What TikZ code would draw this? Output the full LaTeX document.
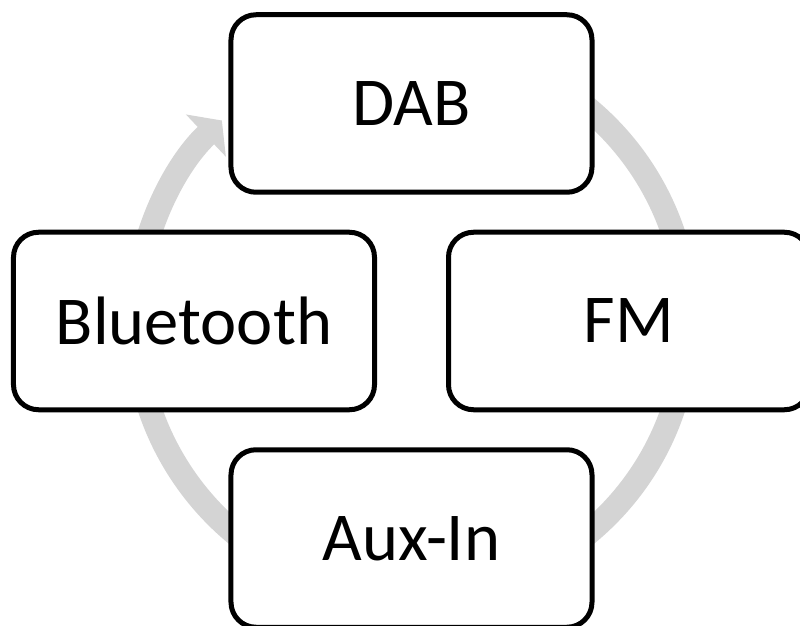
\documentclass[tikz,border=0pt]{standalone}
\usepackage{fontspec}
\setmainfont{Carlito}
\usetikzlibrary{positioning, arrows.meta}
\definecolor{ringgray}{RGB}{212,212,212}
\tikzset{stage/.style={draw, line width=0.1cm, rounded corners=0.5cm, fill=white, minimum width=7.22cm, minimum height=3.55cm, inner sep=0pt, font=\fontsize{39}{47}\selectfont}}
\tikzset{ring/.style={draw=ringgray, line width=0.48cm, -{Triangle[width=1.14cm, length=0.44cm]}}}

\begin{document}
\begin{tikzpicture}
		\clip (-8.23,-6.08) rectangle (7.77,6.42);
		\coordinate (hub) at (0,0);
		\draw[ring] ([shift={(80:5.52)}]hub)
			arc[start angle=80, end angle=-226.6, radius=5.52];
		\node[stage] (dab) at ([shift={(90:4.35)}]hub) {DAB};
		\node[stage] (fm) at ([shift={(0:4.35)}]hub) {FM};
		\node[stage] (aux) at ([shift={(270:4.35)}]hub) {Aux-In};
		\node[stage] (bt) at ([shift={(180:4.35)}]hub) {Bluetooth};
\end{tikzpicture}
\end{document}
